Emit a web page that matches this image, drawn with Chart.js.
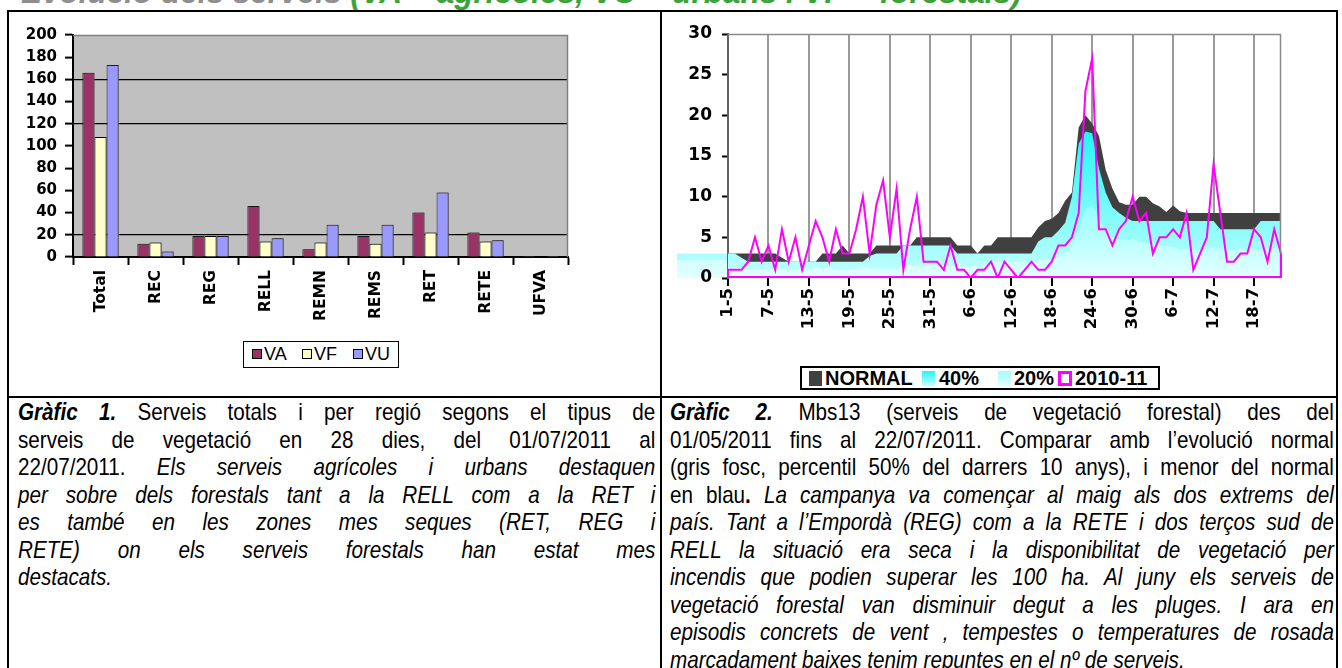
<!DOCTYPE html>
<html>
<head>
<meta charset="utf-8">
<script src="https://cdn.jsdelivr.net/npm/chart.js@4.4.1/dist/chart.umd.min.js"></script>
<style>
  html, body { margin:0; padding:0; background:#fff; }
  body { width:1342px; height:668px; position:relative; overflow:hidden; font-family:"Liberation Sans", Arial, sans-serif; color:#000; }
  .rule { position:absolute; background:#000; }
  #title { position:absolute; left:21px; top:-23px; white-space:nowrap; font-family:"Liberation Sans", Arial, sans-serif; font-weight:bold; font-style:italic; font-size:31.5px; line-height:31px; }
  #title .g1 { color:#8f8f8f; }
  #title .g2 { color:#3ca23c; }
  canvas { position:absolute; }
  .cap { position:absolute; font-size:24px; line-height:27.5px; }
  .cap .ln { transform:scaleX(0.86); transform-origin:0 0; text-align:justify; text-align-last:justify; height:27.5px; white-space:normal; }
  .cap .ln.last { text-align-last:left; }
  .lgbox { position:absolute; border:1px solid #000; box-sizing:border-box; background:#fff; }
  .lgi { position:absolute; white-space:nowrap; }
  .sw { position:absolute; box-sizing:border-box; }
</style>
</head>
<body>
<div id="title"><span class="g1">Evolució dels serveis</span><span class="g2"> (VA = agrícoles, VU = urbans i VF = forestals)</span></div>

<div class="rule" style="left:7px;top:10px;width:1331px;height:2px;"></div>
<div class="rule" style="left:7px;top:10px;width:2px;height:660px;"></div>
<div class="rule" style="left:1336px;top:10px;width:2px;height:660px;"></div>
<div class="rule" style="left:660px;top:10px;width:2px;height:660px;"></div>
<div class="rule" style="left:7px;top:396px;width:1331px;height:2px;"></div>

<canvas id="c1" width="650" height="383" style="left:10px;top:12px;"></canvas>
<canvas id="c2" width="674" height="383" style="left:662px;top:12px;"></canvas>

<!-- legend chart 1 -->
<div class="lgbox" style="left:243px;top:341px;width:156px;height:27px;"></div>
<div class="sw" style="left:252px;top:349px;width:10px;height:10px;background:#993366;border:1px solid #000;"></div>
<div class="lgi" style="left:264px;top:344px;font-size:18px;line-height:20px;">VA</div>
<div class="sw" style="left:302px;top:349px;width:10px;height:10px;background:#FFFFCC;border:1px solid #000;"></div>
<div class="lgi" style="left:314px;top:344px;font-size:18px;line-height:20px;">VF</div>
<div class="sw" style="left:353px;top:349px;width:10px;height:10px;background:#9999FF;border:1px solid #000;"></div>
<div class="lgi" style="left:365px;top:344px;font-size:18px;line-height:20px;">VU</div>

<!-- legend chart 2 -->
<div class="lgbox" style="left:800px;top:366px;width:360px;height:24px;border-width:2px;"></div>
<div class="sw" style="left:809px;top:371px;width:13px;height:15px;background:#404040;"></div>
<div class="lgi" style="left:825px;top:367px;font-size:20px;line-height:22px;font-weight:bold;">NORMAL</div>
<div class="sw" style="left:922px;top:371px;width:13px;height:15px;background:linear-gradient(#22F5F5,#C6FFFF);"></div>
<div class="lgi" style="left:939px;top:367px;font-size:20px;line-height:22px;font-weight:bold;">40%</div>
<div class="sw" style="left:998px;top:371px;width:13px;height:15px;background:linear-gradient(#A0FFFF,#E2FFFF);"></div>
<div class="lgi" style="left:1014px;top:367px;font-size:20px;line-height:22px;font-weight:bold;">20%</div>
<div class="sw" style="left:1058px;top:371px;width:14px;height:15px;background:#fff;border:3px solid #FF00FF;"></div>
<div class="lgi" style="left:1075px;top:367px;font-size:20px;line-height:22px;font-weight:bold;">2010-11</div>

<div class="cap" style="left:18px;top:398px;">
  <div class="ln" style="width:741px;"><b><i>Gràfic 1.</i></b> Serveis totals i per regió segons el tipus de</div>
  <div class="ln" style="width:741px;">serveis de vegetació en 28 dies, del 01/07/2011 al</div>
  <div class="ln" style="width:741px;">22/07/2011. <i>Els serveis agrícoles i urbans destaquen</i></div>
  <div class="ln" style="width:741px;"><i>per sobre dels forestals tant a la RELL com a la RET i</i></div>
  <div class="ln" style="width:741px;"><i>es també en les zones mes seques (RET, REG i</i></div>
  <div class="ln" style="width:741px;"><i>RETE) on els serveis forestals han estat mes</i></div>
  <div class="ln last" style="width:741px;"><i>destacats.</i></div>
</div>

<div class="cap" style="left:670px;top:398px;">
  <div class="ln" style="width:772px;"><b><i>Gràfic 2.</i></b> Mbs13 (serveis de vegetació forestal) des del</div>
  <div class="ln" style="width:772px;">01/05/2011 fins al 22/07/2011. Comparar amb l’evolució normal</div>
  <div class="ln" style="width:772px;">(gris fosc, percentil 50% del darrers 10 anys), i menor del normal</div>
  <div class="ln" style="width:772px;">en blau<b>.</b> <i>La campanya va començar al maig als dos extrems del</i></div>
  <div class="ln" style="width:772px;"><i>país. Tant a l’Empordà (REG) com a la RETE i dos terços sud de</i></div>
  <div class="ln" style="width:772px;"><i>RELL la situació era seca i la disponibilitat de vegetació per</i></div>
  <div class="ln" style="width:772px;"><i>incendis que podien superar les 100 ha. Al juny els serveis de</i></div>
  <div class="ln" style="width:772px;"><i>vegetació forestal van disminuir degut a les pluges. I ara en</i></div>
  <div class="ln" style="width:772px;"><i>episodis concrets de vent , tempestes o temperatures de rosada</i></div>
  <div class="ln last" style="width:772px;"><i>marcadament baixes tenim repuntes en el nº de serveis.</i></div>
</div>

<script>
// ---------- Chart 1 data ----------
const regions = ['Total','REC','REG','RELL','REMN','REMS','RET','RETE','UFVA'];
const seriesVA = [166, 12, 19, 46, 7, 19, 40, 22, 1];
const seriesVF = [108, 13, 19, 14, 13, 12, 22, 14, 0];
const seriesVU = [173, 5, 19, 17, 29, 29, 58, 15, 1];
const chart1Max = 200;
const chart1Step = 20;
const chart1GridValues = [20, 120, 160];

// ---------- Chart 2 data ----------
const dayLabels = [
  '1-5','2-5','3-5','4-5','5-5','6-5','7-5','8-5','9-5','10-5','11-5','12-5','13-5','14-5','15-5','16-5',
  '17-5','18-5','19-5','20-5','21-5','22-5','23-5','24-5','25-5','26-5','27-5','28-5','29-5','30-5','31-5',
  '1-6','2-6','3-6','4-6','5-6','6-6','7-6','8-6','9-6','10-6','11-6','12-6','13-6','14-6','15-6',
  '16-6','17-6','18-6','19-6','20-6','21-6','22-6','23-6','24-6','25-6','26-6','27-6','28-6','29-6','30-6',
  '1-7','2-7','3-7','4-7','5-7','6-7','7-7','8-7','9-7','10-7','11-7','12-7','13-7','14-7','15-7',
  '16-7','17-7','18-7','19-7','20-7','21-7','22-7'
];
const seriesNormal = [
  3,3,3,3,3,3,3,3,2.5,2, 2,2,2,2,3,3,3,4,3,3, 3,3,4,4,4,4,4,4,5,5,
  5,5,5,5,4,4,4,3,4,4, 5,5,5,5,5,5,6.2,7,7.3,8, 9.5,10.5,18.5,20,19,17.5,13.3,11,9.3,9,
  9,10,10,9.2,8.8,8.1,8.9,8.2,8,8, 8,8,8,8,8,8,8,8,8,8, 8,8,8
];
const series40 = [
  3,3,2.5,2,2,2,2,2,2,2, 2,2,2,2,2,2,2,2,2,2, 2,2.7,3,3,3,3,4,4,4,4,
  4,4,4,4,3,3,3,3,3,3, 3,3,3,3,3,3,4.5,5,5,5.8, 6.8,10,16.5,18,17.8,13.5,10.5,8.7,8,7.4,
  7,7,7,7,7,7,7,7,7,7, 7,7,7,6,6,6,6,6,6,7, 7,7,7
];
const series20 = [
  1.3,1.3,1.2,1,1,1,1,1,1,1, 1,1,1,1.4,1.1,1.4,1,1,1,1, 1.4,1.2,1,1,1.2,1,1.6,1.6,1.5,1.5,
  1.6,1.5,1.5,1.5,1.5,1.6,1.5,1.4,1.5,2, 2,2,2,2,2,2,2.2,2.2,2.3,2.6, 3.2,3.8,6,8.5,9,7.5,5.5,5,4.7,4.7,
  4.8,4.5,4.3,4.2,4,4,3.8,3.5,3.5,3.4, 3.5,3.6,3.8,3.6,3.4,3.4,3.5,3.6,3.5,3.5, 3.6,3.7,3.8
];
const series2010 = [
  1,1,1,2,5,2,4,1,6,2, 5,1,4,7,5,2,6,3,3,6, 10,3,9,12,5,11,1,6,10,2,
  2,2,1,4,1,1,0,1,1,2, 0,2,1,0,1,2,1,1,2,4, 4,5,8,23,27,6,6,4,6,7,
  10,7,8,3,5,5,6,5,8,1, 3,5,14,8,2,2,3,3,6,5, 2,6,3
];
const chart2Max = 30;
const chart2Step = 5;
const labelEvery = 6;

Chart.defaults.font.family = '"DejaVu Sans", Verdana, sans-serif';
Chart.defaults.color = '#000';

// ---------- plugins ----------
const plotFrame = {
  id: 'plotFrame',
  beforeDraw(chart, args, opts) {
    const { ctx, chartArea: a } = chart;
    if (opts.bg) {
      ctx.save();
      ctx.fillStyle = opts.bg;
      ctx.fillRect(a.left, a.top, a.right - a.left, a.bottom - a.top);
      ctx.restore();
    }
  },
  afterDatasetsDraw(chart, args, opts) {
    const { ctx, chartArea: a } = chart;
    ctx.save();
    ctx.strokeStyle = opts.frame || '#808080';
    ctx.lineWidth = opts.frameWidth || 1;
    ctx.beginPath();
    ctx.moveTo(a.left, a.top + 0.5);
    ctx.lineTo(a.right - 0.5, a.top + 0.5);
    ctx.lineTo(a.right - 0.5, a.bottom);
    ctx.stroke();
    ctx.restore();
  }
};

const barShadow = {
  id: 'barShadow',
  beforeDatasetsDraw(chart) {
    const c = chart.ctx;
    c.save();
    c.shadowColor = 'rgba(96,96,96,0.95)';
    c.shadowOffsetX = 2;
    c.shadowOffsetY = 0;
    c.shadowBlur = 0;
  },
  afterDatasetsDraw(chart) { chart.ctx.restore(); }
};

function grad(chart, topVal, c0, c1) {
  if (!chart.chartArea) return c1;
  const y = chart.scales.y;
  const g = chart.ctx.createLinearGradient(0, y.getPixelForValue(topVal), 0, y.getPixelForValue(0));
  g.addColorStop(0, c0);
  g.addColorStop(1, c1);
  return g;
}
const fill40 = (chart) => grad(chart, 18, '#22F5F5', '#C6FFFF');
const fill20 = (chart) => grad(chart, 10, '#8CFFFF', '#E4FFFF');

// area spill left of the axis, as in the original picture
const leftSpill = {
  id: 'leftSpill',
  beforeDraw(chart) {
    const { ctx, chartArea: a, scales } = chart;
    const y = scales.y;
    const y0 = y.getPixelForValue(0);
    ctx.save();
    ctx.fillStyle = fill40(chart);
    ctx.fillRect(a.left - 51, y.getPixelForValue(series40[0]), 51, y0 - y.getPixelForValue(series40[0]));
    ctx.fillStyle = fill20(chart);
    ctx.fillRect(a.left - 51, y.getPixelForValue(2.2), 51, y0 - y.getPixelForValue(2.2));
    ctx.restore();
  }
};

// closing outline of the 2010-11 area series (no fill, magenta border)
const outlineClose = {
  id: 'outlineClose',
  afterDatasetsDraw(chart) {
    const meta = chart.getDatasetMeta(3);
    const pts = meta.data;
    if (!pts.length) return;
    const y0 = chart.scales.y.getPixelForValue(0);
    const ctx = chart.ctx;
    ctx.save();
    ctx.strokeStyle = '#FF00FF';
    ctx.lineWidth = 2;
    ctx.beginPath();
    ctx.moveTo(pts[pts.length - 1].x, pts[pts.length - 1].y);
    ctx.lineTo(pts[pts.length - 1].x, y0 - 1);
    ctx.lineTo(pts[0].x, y0 - 1);
    ctx.lineTo(pts[0].x, pts[0].y);
    ctx.stroke();
    ctx.restore();
  }
};

// ---------- Chart 1 ----------
new Chart(document.getElementById('c1'), {
  type: 'bar',
  data: {
    labels: regions,
    datasets: [
      { label: 'VA', data: seriesVA, backgroundColor: '#993366', borderColor: '#1a1a1a', borderWidth: 1 },
      { label: 'VF', data: seriesVF, backgroundColor: '#FFFFCC', borderColor: '#000', borderWidth: 1 },
      { label: 'VU', data: seriesVU, backgroundColor: '#9999FF', borderColor: '#1a1a1a', borderWidth: 1 }
    ]
  },
  options: {
    responsive: false,
    animation: false,
    events: [],
    layout: { padding: { top: 23, right: 92, bottom: 0, left: 0 } },
    datasets: { bar: { categoryPercentage: 0.66, barPercentage: 1.0 } },
    plugins: {
      legend: { display: false },
      tooltip: { enabled: false },
      plotFrame: { bg: '#C0C0C0', frame: '#808080', frameWidth: 1.5 }
    },
    scales: {
      x: {
        offset: true,
        grid: { display: true, drawOnChartArea: false, offset: true, tickLength: 8, tickColor: '#000', tickWidth: 2 },
        border: { display: true, color: '#000', width: 2 },
        ticks: { autoSkip: false, minRotation: 90, maxRotation: 90, padding: 5, color: '#000',
                 font: { weight: 'bold', size: 15.5 } },
        afterFit(s) { s.height = 138; }
      },
      y: {
        min: 0, max: chart1Max,
        ticks: { stepSize: chart1Step, padding: 8, color: '#000', font: { weight: 'bold', size: 15 } },
        grid: {
          color: (c) => (c.tick && chart1GridValues.includes(c.tick.value)) ? '#000' : 'rgba(0,0,0,0)',
          lineWidth: 1.2, tickColor: '#000', tickLength: 8, tickWidth: 2
        },
        border: { display: true, color: '#000', width: 2 },
        afterFit(s) { s.width = 63; }
      }
    }
  },
  plugins: [barShadow, plotFrame]
});

// ---------- Chart 2 ----------
new Chart(document.getElementById('c2'), {
  type: 'line',
  data: {
    labels: dayLabels,
    datasets: [
      { label: 'NORMAL', data: seriesNormal, order: 3, fill: 'origin', backgroundColor: '#404040',
        borderWidth: 0, borderColor: 'rgba(0,0,0,0)', pointRadius: 0, tension: 0 },
      { label: '40%', data: series40, order: 2, fill: 'origin', backgroundColor: (c) => fill40(c.chart),
        borderWidth: 0, borderColor: 'rgba(0,0,0,0)', pointRadius: 0, tension: 0 },
      { label: '20%', data: series20, order: 1, fill: 'origin', backgroundColor: (c) => fill20(c.chart),
        borderWidth: 0, borderColor: 'rgba(0,0,0,0)', pointRadius: 0, tension: 0 },
      { label: '2010-11', data: series2010, order: 0, fill: false, borderColor: '#FF00FF',
        borderWidth: 2, pointRadius: 0, tension: 0 }
    ]
  },
  options: {
    responsive: false,
    animation: false,
    events: [],
    layout: { padding: { top: 22, right: 55, bottom: 0, left: 0 } },
    plugins: {
      legend: { display: false },
      tooltip: { enabled: false },
      plotFrame: { frame: '#8a8a8a', frameWidth: 1.5 }
    },
    scales: {
      x: {
        offset: false,
        grid: {
          offset: false,
          color: (c) => (c.index % labelEvery === 0) ? '#9a9a9a' : 'rgba(0,0,0,0)',
          lineWidth: 2,
          tickColor: (c) => (c.index % labelEvery === 0) ? '#000' : 'rgba(0,0,0,0)',
          tickLength: 8, tickWidth: 2
        },
        border: { display: false },
        ticks: {
          autoSkip: false, minRotation: 90, maxRotation: 90, padding: 2, color: '#000',
          font: { weight: 'bold', size: 16.5 },
          callback: (v, i) => (i % labelEvery === 0) ? dayLabels[i] : ''
        },
        afterFit(s) { s.height = 117; }
      },
      y: {
        min: 0, max: chart2Max,
        ticks: { stepSize: chart2Step, padding: 10, color: '#000', font: { weight: 'bold', size: 17 } },
        grid: { drawOnChartArea: false, tickColor: '#000', tickLength: 6, tickWidth: 2 },
        border: { display: true, color: '#606060', width: 2 },
        afterFit(s) { s.width = 66; }
      }
    }
  },
  plugins: [leftSpill, plotFrame, outlineClose]
});
</script>
</body>
</html>
